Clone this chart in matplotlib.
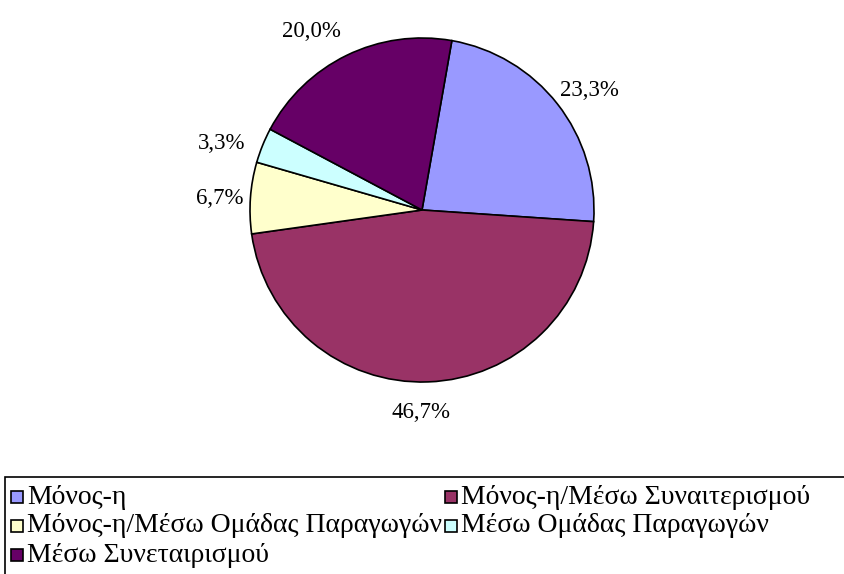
import matplotlib
matplotlib.use('Agg')
import matplotlib.pyplot as plt
from matplotlib.patches import Rectangle
from matplotlib.transforms import Bbox, TransformedBbox

plt.rcParams['font.family'] = ['Liberation Serif', 'DejaVu Serif']

# δεδομένα
categories = ['Μόνος-η', 'Μόνος-η/Μέσω Συναιτερισμού',
              'Μόνος-η/Μέσω Ομάδας Παραγωγών', 'Μέσω Ομάδας Παραγωγών',
              'Μέσω Συνεταιρισμού']
values = [23.3, 46.7, 6.7, 3.3, 20.0]
colors = ['#9999FF', '#993366', '#FFFFCC', '#CCFFFF', '#660066']

W, H = 845, 574
fig = plt.figure(figsize=(W / 100, H / 100), dpi=100)
ax = fig.add_axes([0, 0, 1, 1])
ax.set_xlim(0, W)
ax.set_ylim(0, H)
ax.set_aspect('equal')
ax.axis('off')

def fmt(p):
    return f'{p:.1f}%'.replace('.', ',')

wedges, texts = ax.pie(values, colors=colors, startangle=80, counterclock=False,
                       center=(422, H - 210), radius=172,
                       labels=[fmt(v) for v in values], labeldistance=1.18,
                       wedgeprops=dict(edgecolor='black', linewidth=1.2),
                       textprops=dict(fontsize=16.5))
# μικρές μετατοπίσεις ετικετών (σε pixel) ώστε να μοιάζουν με το Excel
label_shift = [(8, -6), (-8, 0), (0, -3), (-12, -10), (-22, -4)]
for t, (dx, dy) in zip(texts, label_shift):
    x, y = t.get_position()
    t.set_position((x + dx, y + dy))
    t.set_horizontalalignment('center')
    t.set_verticalalignment('center')
ax.set_xlim(0, W)
ax.set_ylim(0, H)

# υπόμνημα
ax.add_patch(Rectangle((5, -20), W + 20, H - 477 + 20, fill=False,
                       edgecolor='black', linewidth=1.2, clip_on=False))
col_x = [11, 445]
row_y = [497, 526, 555]
for i, (lab, c) in enumerate(zip(categories, colors)):
    x = col_x[i % 2]
    y = H - row_y[i // 2]
    ax.add_patch(Rectangle((x, y - 6), 12, 12, facecolor=c, edgecolor='black',
                           linewidth=1.2, zorder=3))
    t = ax.text(x + 16, y, lab, fontsize=20, va='center', ha='left')
    if i % 2 == 0:
        # το κείμενο κόβεται στο δεύτερο στηλοθέτη, όπως στο πρωτότυπο
        t.set_clip_on(True)
        t.set_clip_box(TransformedBbox(Bbox([[0, 0], [col_x[1] - 1, H]]),
                                       ax.transData))

fig.savefig('out.png', dpi=100)
